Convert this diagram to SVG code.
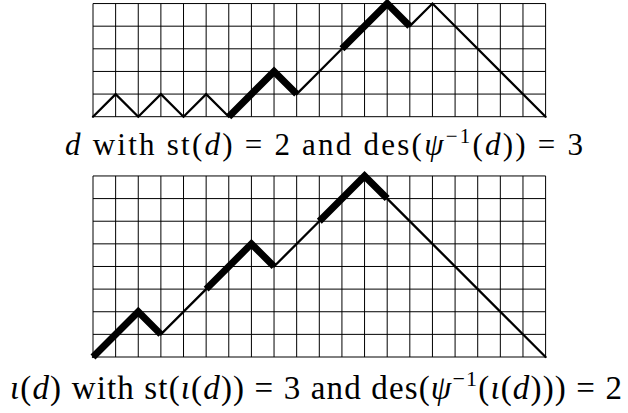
<svg xmlns="http://www.w3.org/2000/svg" width="628" height="413" viewBox="0 0 628 413">
<style>
.grid{fill:none;stroke:#000;stroke-width:1}
.thin{fill:none;stroke:#000;stroke-width:2.3;stroke-linejoin:miter;stroke-linecap:round}
.thick{fill:none;stroke:#000;stroke-width:7;stroke-linejoin:miter;stroke-linecap:butt;stroke-miterlimit:10}
text{font-family:"Liberation Serif","DejaVu Serif",serif;fill:#000}
.t1{font-size:31px}
.t2{font-size:33px}
.it{font-style:italic}
.sup1{font-size:21px}
.sup2{font-size:22px}
</style>
<rect width="628" height="413" fill="#fff"/>
<g id="top-diagram">
<path class="grid" d="M93,3.55V116.7M115.63,3.55V116.7M138.26,3.55V116.7M160.89,3.55V116.7M183.52,3.55V116.7M206.15,3.55V116.7M228.78,3.55V116.7M251.41,3.55V116.7M274.04,3.55V116.7M296.67,3.55V116.7M319.3,3.55V116.7M341.93,3.55V116.7M364.56,3.55V116.7M387.19,3.55V116.7M409.82,3.55V116.7M432.45,3.55V116.7M455.08,3.55V116.7M477.71,3.55V116.7M500.34,3.55V116.7M522.97,3.55V116.7M545.6,3.55V116.7M93,3.55H545.6M93,26.18H545.6M93,48.81H545.6M93,71.44H545.6M93,94.07H545.6M93,116.7H545.6"/>
<path class="thin" d="M93,116.7L115.63,94.07L138.26,116.7L160.89,94.07L183.52,116.7L206.15,94.07L228.78,116.7L274.04,71.44L296.67,94.07L319.3,71.44L341.93,48.81L387.19,3.55L409.82,26.18L432.45,3.55L545.6,116.7"/>
<path class="thick" d="M228.78,116.7L274.04,71.44L296.67,94.07M341.93,48.81L387.19,3.55L409.82,26.18"/>
</g>
<g id="bottom-diagram">
<path class="grid" d="M93,175.96V357M115.63,175.96V357M138.26,175.96V357M160.89,175.96V357M183.52,175.96V357M206.15,175.96V357M228.78,175.96V357M251.41,175.96V357M274.04,175.96V357M296.67,175.96V357M319.3,175.96V357M341.93,175.96V357M364.56,175.96V357M387.19,175.96V357M409.82,175.96V357M432.45,175.96V357M455.08,175.96V357M477.71,175.96V357M500.34,175.96V357M522.97,175.96V357M545.6,175.96V357M93,175.96H545.6M93,198.59H545.6M93,221.22H545.6M93,243.85H545.6M93,266.48H545.6M93,289.11H545.6M93,311.74H545.6M93,334.37H545.6M93,357H545.6"/>
<path class="thin" d="M93,357L138.26,311.74L160.89,334.37L206.15,289.11L251.41,243.85L274.04,266.48L319.3,221.22L364.56,175.96L387.19,198.59L545.6,357"/>
<path class="thick" d="M93,357L138.26,311.74L160.89,334.37M206.15,289.11L251.41,243.85L274.04,266.48M319.3,221.22L364.56,175.96L387.19,198.59"/>
</g>
<g id="top-label">
<text class="t1" x="65" y="155" textLength="518" lengthAdjust="spacing"><tspan class="it">d</tspan> with st(<tspan class="it">d</tspan>) = 2 and des(<tspan class="it">ψ</tspan><tspan class="sup1" dy="-12">−1</tspan><tspan dy="12">(</tspan><tspan class="it">d</tspan>)) = 3</text>
</g>
<g id="bottom-label">
<text class="t2" x="10" y="399" textLength="612" lengthAdjust="spacing"><tspan class="it">ι</tspan>(<tspan class="it">d</tspan>) with st(<tspan class="it">ι</tspan>(<tspan class="it">d</tspan>)) = 3 and des(<tspan class="it">ψ</tspan><tspan class="sup2" dy="-13">−1</tspan><tspan dy="13">(</tspan><tspan class="it">ι</tspan>(<tspan class="it">d</tspan>))) = 2</text>
</g>
</svg>
